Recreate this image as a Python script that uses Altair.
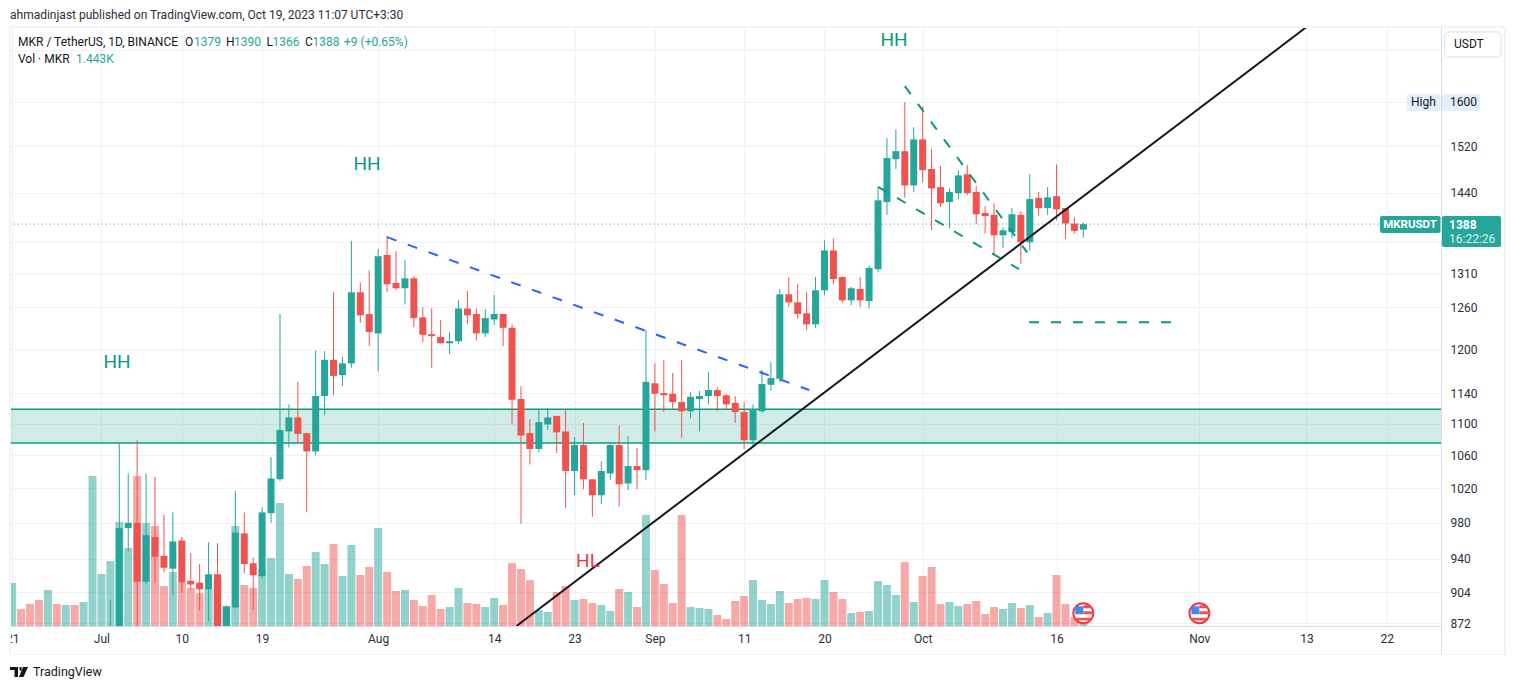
import altair as alt
import pandas as pd
from datetime import datetime, timedelta, timezone

FONT = "Roboto"
UP, DOWN = "#26a69a", "#ef5350"
TEAL, GRID, FRAME, LINE = "#089981", "#f0f1f4", "#f0f3fa", "#d9dbe3"
W, H = 1431, 599
OX, OY = 10, 27

ohlc_rows = """850,896,845,862
862,1075,855,974
974,1038,948,980
980,1079,868,915
915,1038,912,966
964,1034,914,942
943,989,925,930
929,992,901,959
960,964,903,914
916,946,907,912
914,934,885,907
907,958,874,923
923,957,860,865
865,890,860,889
888,1017,887,969
968,992,924,934
935,941,886,922
921,998,919,992
991,1058,980,1032
1031,1250,1029,1092
1090,1125,1070,1108
1108,1155,1075,1087
1088,1088,992,1065
1065,1198,1060,1136
1136,1197,1111,1185
1185,1282,1137,1163
1164,1189,1149,1180
1180,1361,1174,1282
1282,1297,1237,1248
1250,1315,1204,1224
1222,1348,1169,1337
1339,1369,1282,1294
1296,1345,1285,1288
1288,1331,1264,1303
1303,1306,1231,1244
1245,1260,1210,1220
1221,1258,1174,1218
1217,1241,1208,1208
1208,1224,1193,1211
1211,1270,1207,1258
1258,1284,1235,1248
1250,1258,1212,1222
1222,1257,1217,1244
1242,1278,1234,1250
1250,1250,1204,1230
1230,1235,1099,1131
1132,1149,979,1085
1088,1106,1049,1068
1068,1118,1064,1102
1099,1120,1092,1108
1110,1110,1063,1089
1090,1119,997,1041
1041,1083,1012,1073
1073,1101,1019,1031
1031,1031,987,1012
1012,1053,1002,1041
1038,1074,1030,1073
1073,1098,999,1025
1026,1084,1018,1047
1047,1069,1019,1042
1042,1227,1030,1155
1153,1180,1090,1139
1140,1185,1115,1137
1139,1167,1118,1128
1128,1185,1082,1116
1116,1141,1107,1135
1132,1143,1090,1136
1136,1168,1125,1144
1144,1148,1116,1136
1137,1139,1118,1125
1127,1136,1101,1115
1115,1128,1068,1079
1079,1125,1070,1119
1116,1171,1114,1152
1151,1182,1143,1160
1159,1287,1155,1279
1279,1305,1260,1267
1267,1294,1243,1250
1251,1282,1227,1235
1235,1305,1230,1285
1285,1362,1278,1346
1346,1365,1294,1302
1305,1306,1267,1270
1270,1290,1263,1288
1287,1305,1260,1270
1269,1323,1258,1319
1317,1449,1312,1427
1424,1534,1403,1499
1497,1550,1480,1511
1511,1600,1431,1452
1452,1554,1441,1532
1532,1592,1457,1478
1480,1515,1378,1447
1449,1485,1416,1422
1424,1447,1381,1441
1439,1478,1429,1469
1471,1487,1436,1439
1441,1451,1388,1404
1406,1417,1373,1401
1403,1422,1340,1370
1370,1383,1350,1378
1375,1414,1365,1404
1403,1409,1325,1359
1359,1471,1346,1429
1431,1441,1401,1414
1414,1449,1403,1432
1434,1488,1394,1412
1414,1414,1364,1389
1389,1399,1373,1377
1379,1390,1366,1388"""
rows = [[int(v) for v in r.split(",")] for r in ohlc_rows.splitlines()]
opens = [r[0] for r in rows]
highs = [r[1] for r in rows]
lows = [r[2] for r in rows]
closes = [r[3] for r in rows]

# thousands of MKR, 21 Jun -> 19 Oct
volumes = [21.5, 8.5, 11, 13, 18, 11, 10.5, 10.5, 12, 75,
           26, 32.5, 52, 39, 75, 51.5, 50, 20, 27, 21.5, 19, 16.5, 18.5, 22.5, 10, 50, 20.5, 19, 28, 34,
           61.5, 26, 23.5, 30, 37, 31, 41, 25, 40.5, 25.5, 29.5,
           49, 27, 17.5, 18, 13, 10, 15.5, 8.5, 9.5, 19, 11.5, 11, 9.5, 14, 10.5, 31.5, 28.5, 23, 8, 7,
           17, 20, 13, 13.5, 11.5, 10.5, 7.5, 18.5, 17, 9.5, 55.5,
           28, 21, 11.5, 55.5, 9.5, 9, 8.5, 5.5, 3.5, 12.5, 15, 23, 13, 11, 17.5, 11.5, 13.5, 14, 13.5, 23,
           17, 13.5, 6.5, 7, 7.5, 22.5, 20.5, 15.5, 32, 12,
           25, 29.5, 11, 12, 10, 11, 12.5, 6, 9.5, 8.5, 11.5, 9, 10.5, 4.5, 6.5, 25.5, 11, 4.5, 1.443]
early_up = [True, False, False, False, True, False, True, False, True, True, True]

price_ticks = [872, 904, 940, 980, 1020, 1060, 1100, 1140, 1200, 1260, 1310, 1360, 1440, 1520, 1600, 1700]
date_ticks = [(2023, 6, 21), (2023, 7, 1), (2023, 7, 10), (2023, 7, 19), (2023, 8, 1), (2023, 8, 14),
              (2023, 8, 23), (2023, 9, 1), (2023, 9, 11), (2023, 9, 20), (2023, 10, 1), (2023, 10, 16),
              (2023, 11, 1), (2023, 11, 13), (2023, 11, 22)]
MONTHS = ["", "Jan", "Feb", "Mar", "Apr", "May", "Jun", "Jul", "Aug", "Sep", "Oct", "Nov", "Dec"]

start = datetime(2023, 6, 21)
all_dates = [(start + timedelta(days=i)).strftime("%Y-%m-%d") for i in range(len(volumes))]
candle_dates = all_dates[len(early_up):]

candles = pd.DataFrame({"date": candle_dates, "o": opens, "h": highs, "l": lows, "c": closes})
candles["top"] = candles[["o", "c"]].max(axis=1)
candles["bot"] = candles[["o", "c"]].min(axis=1)
candles["dir"] = ["up" if c >= o else "down" for o, c in zip(opens, closes)]
vol_df = pd.DataFrame({
    "date": all_dates,
    "vol": volumes,
    "dir": ["up" if u else "down" for u in early_up] + list(candles["dir"]),
})

def ms(d):
    return d.replace(tzinfo=timezone.utc).timestamp() * 1000

jul1 = datetime(2023, 7, 1)
xscale = alt.Scale(type="utc", padding=0,
                   domain=[ms(jul1 - timedelta(days=10.245)), ms(jul1 + timedelta(days=150.07))])
yscale = alt.Scale(type="log", domain=[869.0, 1746.3], nice=False)
dirscale = alt.Scale(domain=["up", "down"], range=[UP, DOWN])

label_map = ",".join(
    f"'{y}-{m}-{d}':'{MONTHS[m] if d == 1 else d}'" for y, m, d in date_ticks
)
xaxis = alt.Axis(
    values=[alt.DateTime(year=y, month=MONTHS[m], date=d, utc=True) for y, m, d in date_ticks],
    labelExpr=f"({{{label_map}}})[utcyear(datum.value)+'-'+(utcmonth(datum.value)+1)+'-'+utcdate(datum.value)]",
    title=None, grid=True, gridColor=GRID, gridWidth=1, domain=False, ticks=False,
    labelFont=FONT, labelFontSize=12, labelColor="#2a2e39", labelPadding=7, labelFlush=False,
    labelOverlap=False, labelBound=False,
)
NOX = alt.X("date:T", scale=xscale, axis=xaxis)
yaxis = alt.Axis(
    orient="right", values=price_ticks, title=None, grid=True, gridColor=GRID, gridWidth=1,
    domain=False, ticks=False, labelFont=FONT, labelFontSize=12, labelColor="#2a2e39",
    labelPadding=9, labelAlign="left", labelOverlap=False, labelBound=False, labelFlush=False,
    labelExpr="datum.value==1360||datum.value==1600||datum.value==1700?'':datum.value",
)

one = pd.DataFrame({"a": [0]})

def box(x0, y0, x1, y1, fill, **kw):
    return alt.Chart(one).mark_rect(fill=fill, **kw).encode(
        x=alt.value(x0 - OX), x2=alt.value(x1 - OX), y=alt.value(y0 - OY), y2=alt.value(y1 - OY))

def label(text, x, y, color="#131722", size=12, weight="normal", align="left", opacity=1):
    return alt.Chart(pd.DataFrame({"t": [text]})).mark_text(
        font=FONT, fontSize=size, fontWeight=weight, color=color, align=align, baseline="middle",
        opacity=opacity,
    ).encode(x=alt.value(x - OX), y=alt.value(y - OY), text="t:N")

def trend(points, color, width, dash=None):
    df = pd.DataFrame(points, columns=["date", "p"])
    kw = {"strokeDash": dash} if dash else {}
    return alt.Chart(df).mark_line(color=color, strokeWidth=width, clip=True, **kw).encode(
        x=NOX, y=alt.Y("p:Q", scale=yscale, axis=None))

volume = alt.Chart(vol_df).mark_bar(size=8, opacity=0.5, clip=True).encode(
    x=NOX,
    y=alt.Y("vol:Q", scale=alt.Scale(domain=[0, H / 2]), axis=None),
    color=alt.Color("dir:N", scale=dirscale, legend=None),
)

zone_df = pd.DataFrame({"top": [1118.8], "bot": [1075.4]})
zone = alt.Chart(zone_df).mark_rect(color=TEAL, opacity=0.19, clip=True).encode(
    y=alt.Y("top:Q", scale=yscale, axis=None), y2="bot:Q")
zone_t = alt.Chart(zone_df).mark_rule(color=TEAL, strokeWidth=1.5, clip=True).encode(
    y=alt.Y("top:Q", scale=yscale, axis=None))
zone_b = alt.Chart(zone_df).mark_rule(color=TEAL, strokeWidth=1.5, clip=True).encode(
    y=alt.Y("bot:Q", scale=yscale, axis=None))

wicks = alt.Chart(candles).mark_rule(strokeWidth=1, clip=True).encode(
    x=NOX, y=alt.Y("h:Q", scale=yscale, axis=yaxis), y2="l:Q",
    color=alt.Color("dir:N", scale=dirscale, legend=None))
bodies = alt.Chart(candles).mark_bar(size=7, clip=True).encode(
    x=NOX, y=alt.Y("top:Q", scale=yscale, axis=None), y2="bot:Q",
    color=alt.Color("dir:N", scale=dirscale, legend=None))

last = alt.Chart(pd.DataFrame({"p": [1388]})).mark_rule(
    color=UP, strokeWidth=1, strokeDash=[1, 3]).encode(
    x=alt.value(0), x2=alt.value(1380 - OX), y=alt.Y("p:Q", scale=yscale, axis=None))

black = trend([("2023-08-16T12:00:00Z", 869), ("2023-11-13T00:00:00Z", 1746.3)], "#131722", 2)
blue = trend([("2023-08-02T00:00:00Z", 1367), ("2023-09-18T07:00:00Z", 1144)], "#2962ff", 2, [10, 12])
green_up = trend([("2023-09-29T00:00:00Z", 1630), ("2023-10-12T17:00:00Z", 1343)], TEAL, 2, [10, 12])
green_lo = trend([("2023-09-26T00:00:00Z", 1449.5), ("2023-10-11T19:00:00Z", 1317)], TEAL, 2, [10, 12])
green_h = trend([("2023-10-12T22:00:00Z", 1238), ("2023-10-28T22:00:00Z", 1238)], TEAL, 2, [10, 12])

flags_df = pd.DataFrame({"date": ["2023-10-19", "2023-11-01"], "p": [882, 882]})
def flag(shape, fill, stroke=None, size=400, width=0):
    kw = {"stroke": stroke, "strokeWidth": width} if stroke else {"strokeWidth": 0}
    return alt.Chart(flags_df).mark_point(shape=shape, fill=fill, filled=True, size=size, opacity=1, **kw).encode(
        x=NOX, y=alt.Y("p:Q", scale=yscale, axis=None))
flags = [
    flag("circle", "#ffffff", "#f23645", 400, 2),
    flag("M-0.8,-0.7H0V0.1H-0.8Z", "#3d8bea"),
    flag("M0,-0.8H0.7V-0.5H0Z M0,-0.2H0.9V0.1H0Z M-0.75,0.45H0.75V0.72H-0.75Z", "#ef5350"),
]

logo_px = [(10, 667), (18, 667), (18, 677), (14.5, 677), (14.5, 670), (10, 670)]
logo_slant = [(23, 667), (28, 667), (23.5, 677), (19, 677)]
def to_unit(pts):
    return "M" + "L".join(f"{(x - 19) / 9:.3f},{(y - 672) / 9:.3f}" for x, y in pts) + "Z"
logo_path = to_unit(logo_px) + to_unit(logo_slant) + to_unit([(19.5, 667), (21.5, 667), (21.5, 670.5), (19.5, 670.5)])
logo = alt.Chart(one).mark_point(shape=logo_path, fill="#131722", filled=True, size=324, opacity=1, strokeWidth=0).encode(
    x=alt.value(19 - OX), y=alt.value(672 - OY))

chrome = [
    box(0, 627, 10, 655, "#ffffff"),
    box(9, 26, 1506, 28, FRAME), box(9, 26, 11, 655, FRAME), box(1504, 26, 1506, 655, FRAME),
    box(9, 654, 1506, 655, FRAME),
    box(11, 626, 1441, 627, LINE), box(1441, 28, 1442, 654, LINE),
    alt.Chart(one).mark_rect(fill="#ffffff", stroke="#e8eaf0", strokeWidth=1.5, cornerRadius=4).encode(
        x=alt.value(1445 - OX), x2=alt.value(1501 - OX), y=alt.value(32 - OY), y2=alt.value(57 - OY)),
    label("USDT", 1454, 44),
    box(1407, 94, 1440.5, 111, "#e3effd", cornerRadius=2), box(1442, 94, 1480, 111, "#e3effd", cornerRadius=2),
    label("High", 1411, 102), label("1600", 1450, 102),
    box(1380, 216, 1440.5, 233, UP, cornerRadius=2), box(1442, 216, 1501, 247, UP, cornerRadius=2),
    label("MKRUSDT", 1410, 225, "#ffffff", 11.5, "bold", "center"),
    label("1388", 1449, 225, "#ffffff", 12, "bold"),
    label("16:22:26", 1449, 238.5, "#ffffff", 12, "normal", opacity=0.85),
]

texts = [
    label("ahmadinjast published on TradingView.com, Oct 19, 2023 11:07 UTC+3:30", 10, 15, "#2a2e39"),
    label("MKR / TetherUS, 1D, BINANCE", 18, 41.5),
    label("O", 185, 41.5), label("1379", 194, 41.5, UP),
    label("H", 226, 41.5), label("1390", 234, 41.5, UP),
    label("L", 266.5, 41.5), label("1366", 272.5, 41.5, UP),
    label("C", 305, 41.5), label("1388", 312.5, 41.5, UP),
    label("+9 (+0.65%)", 344, 41.5, UP),
    label("Vol · MKR", 18, 59), label("1.443K", 76, 59, UP),
    label("HH", 117, 361.5, TEAL, 19, align="center"),
    label("HH", 367, 163.5, TEAL, 19, align="center"),
    label("HH", 894, 39.5, TEAL, 19, align="center"),
    label("HL", 588, 560.5, "#f23645", 19, align="center"),
    label("TradingView", 33, 671.5, "#131722", 12.5),
    logo,
]

chart = alt.layer(
    volume, zone, zone_t, zone_b, last, wicks, bodies, black, blue, green_up, green_lo, green_h,
    *flags, *chrome, *texts,
).resolve_scale(y="independent").properties(
    width=W, height=H,
    autosize=alt.AutoSizeParams(type="none"),
    padding={"left": 2, "top": 19, "right": 66, "bottom": 56},
    background="#ffffff",
).configure_view(stroke=None)

chart.save("out.html", embed_options={"renderer": "svg", "actions": False})
